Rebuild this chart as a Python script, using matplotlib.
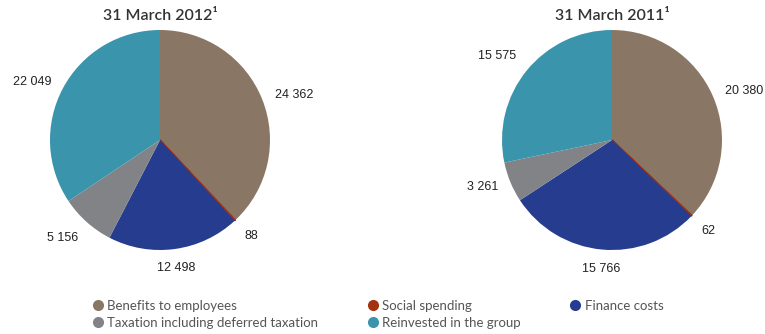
import numpy as np
import matplotlib
matplotlib.use("Agg")
import matplotlib.pyplot as plt
from matplotlib.lines import Line2D

# Value added distribution, R million
categories = ["Benefits to employees", "Social spending", "Finance costs",
              "Taxation including deferred taxation", "Reinvested in the group"]
values_2012 = [24362, 88, 12498, 5156, 22049]
values_2011 = [20380, 62, 15766, 3261, 15575]
titles = ["31 March 2012\u00b9", "31 March 2011\u00b9"]
colors = ["#8a7664", "#a4310f", "#263d8f", "#828386", "#3a94ac"]

text_font = "Lato"
num_font = "Liberation Sans"


def fmt(v):
    return f"{v:,}".replace(",", " ")


def draw_pie(ax, values, title):
    wedges, _ = ax.pie(values, colors=colors, startangle=90, counterclock=False,
                       radius=1.0, wedgeprops=dict(linewidth=0))
    # the social spending slice is too thin to see, so give it an outline
    wedges[1].set_edgecolor(colors[1])
    wedges[1].set_linewidth(1.0)
    for w, v in zip(wedges, values):
        ang = np.deg2rad((w.theta1 + w.theta2) / 2)
        c, s = np.cos(ang), np.sin(ang)
        r = 1.12
        ha = "left" if c > 0.25 else ("right" if c < -0.25 else "center")
        va = "bottom" if s > 0.6 else ("top" if s < -0.6 else "center")
        ax.text(r * c, r * s, fmt(v), ha=ha, va=va, fontsize=9,
                family=num_font, color="#222222")
    ax.set_xlim(-1, 1)
    ax.set_ylim(-1, 1)
    ax.set_aspect("equal")
    ax.axis("off")
    ax.text(0, 1.065, title, ha="center", va="bottom", fontsize=11.5,
            family=text_font, weight="semibold", color="#333333")


fig = plt.figure(figsize=(7.65, 3.34), dpi=100)
W, H = 765, 334
size = 220
ax1 = fig.add_axes([50 / W, (H - 250) / H, size / W, size / H])
ax2 = fig.add_axes([502 / W, (H - 250) / H, size / W, size / H])
draw_pie(ax1, values_2012, titles[0])
draw_pie(ax2, values_2011, titles[1])

# legend laid out column-major to get the three-wide rows
order = [0, 3, 1, 4, 2]
handles = [Line2D([], [], marker="o", linestyle="none", markersize=8,
                  markerfacecolor=colors[i], markeredgecolor="none") for i in order]
labels = [categories[i] for i in order]
fig.legend(handles, labels, loc="upper left", bbox_to_anchor=(91 / W, 1 - 300 / H),
           ncol=3, frameon=False, handletextpad=0.25,
           columnspacing=3.6, labelspacing=0.35, borderpad=0, borderaxespad=0,
           handlelength=1.0, prop=dict(family=text_font, size=9.5),
           labelcolor="#555555")

fig.savefig("out.png", dpi=100)
